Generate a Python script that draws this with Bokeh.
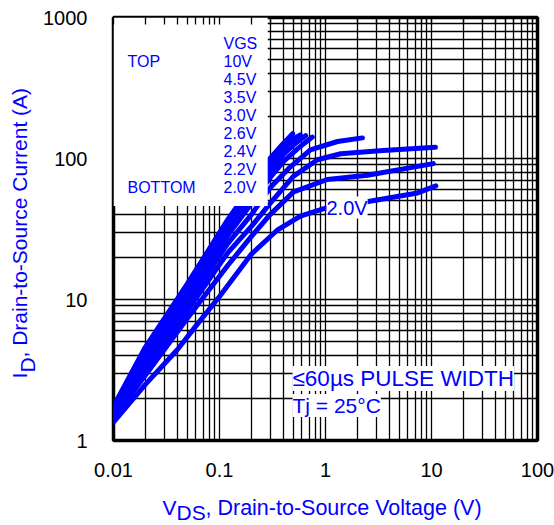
import math
from bokeh.plotting import figure
from bokeh.layouts import row, column
from bokeh.models import FixedTicker, CustomJSTickFormatter, Label, LogAxis
from bokeh.embed import file_html
from bokeh.resources import INLINE

# ---- data ----
vgs_labels = ["10V", "4.5V", "3.5V", "3.0V", "2.6V", "2.4V", "2.2V", "2.0V"]

vds_10v = [0.01, 0.02, 0.05, 0.12, 0.2, 0.3, 0.4, 0.49]
id_10v = [1.75, 4.6, 13, 37, 64, 100, 128, 150]

vds_4v5 = [0.01, 0.02, 0.05, 0.12, 0.2, 0.3, 0.4, 0.5, 0.58]
id_4v5 = [1.7, 4.3, 12, 34, 58, 90, 118, 138, 147]

vds_3v5 = [0.01, 0.02, 0.05, 0.12, 0.2, 0.3, 0.4, 0.5, 0.65]
id_3v5 = [1.65, 4.0, 11.1, 31, 53, 82, 107, 125, 145]

vds_3v0 = [0.01, 0.02, 0.05, 0.12, 0.2, 0.3, 0.4, 0.55, 0.75]
id_3v0 = [1.6, 3.8, 10.3, 28.5, 48, 73, 95, 118, 142]

vds_2v6 = [0.01, 0.02, 0.05, 0.12, 0.2, 0.3, 0.45, 0.72, 1.3, 2.23]
id_2v6 = [1.55, 3.5, 9.4, 25, 40, 62, 85, 115, 132, 140]

vds_2v4 = [0.01, 0.02, 0.05, 0.12, 0.2, 0.3, 0.5, 0.84, 1.39, 3.5, 10.9]
id_2v4 = [1.5, 3.2, 8.4, 21.5, 33, 48, 75, 98, 108, 114, 120]

vds_2v2 = [0.01, 0.02, 0.05, 0.12, 0.2, 0.3, 0.5, 1.04, 2.49, 10.4]
id_2v2 = [1.45, 2.9, 7.4, 17.5, 28, 40, 58, 71, 76, 92]

vds_2v0 = [0.01, 0.02, 0.04, 0.06, 0.1, 0.2, 0.35, 0.58, 0.95, 2.7, 7.4, 11]
id_2v0 = [1.35, 2.5, 4.4, 6.5, 10.5, 21, 31, 39, 44, 50, 57, 64]

curves = [
    (vds_10v, id_10v), (vds_4v5, id_4v5), (vds_3v5, id_3v5), (vds_3v0, id_3v0),
    (vds_2v6, id_2v6), (vds_2v4, id_2v4), (vds_2v2, id_2v2), (vds_2v0, id_2v0),
]

x_major = [0.01, 0.1, 1, 10, 100]
y_major = [1, 10, 100, 1000]
x_tick_labels = ["0.01", "0.1", "1", "10", "100"]
y_tick_labels = ["1", "10", "100", "1000"]

FONT = "Liberation Sans"
BLUE = "#0000FF"

p = figure(width=514, height=495, x_axis_type="log", y_axis_type="log",
           x_range=(0.01, 100), y_range=(1, 1000),
           output_backend="svg", toolbar_location=None,
           min_border_left=73, min_border_right=17,
           min_border_top=17, min_border_bottom=55)

x_minor = [m * d for d in x_major[:-1] for m in range(2, 10)]
y_minor = [m * d for d in y_major[:-1] for m in range(2, 10)]
p.xaxis.ticker = FixedTicker(ticks=x_major, minor_ticks=x_minor)
p.yaxis.ticker = FixedTicker(ticks=y_major, minor_ticks=y_minor)
p.xaxis.major_label_overrides = {v: t for v, t in zip(x_major, x_tick_labels)}
p.yaxis.major_label_overrides = {v: t for v, t in zip(y_major, y_tick_labels)}
fmt = CustomJSTickFormatter(code="return tick < 1 ? tick.toString() : tick.toFixed(0);")
p.xaxis.formatter = fmt
p.yaxis.formatter = fmt

for ax in (p.xaxis[0], p.yaxis[0]):
    ax.axis_line_color = None
    ax.major_tick_line_color = None
    ax.minor_tick_line_color = None
    ax.major_label_text_font = FONT
    ax.major_label_text_font_size = "20px"
    ax.major_label_text_color = "black"
p.xaxis.major_label_standoff = 16
p.yaxis.major_label_standoff = 20

# inward tick marks along the top edge (visible inside the legend panel)
top_ax = LogAxis(ticker=FixedTicker(ticks=x_major, minor_ticks=x_minor),
                 formatter=CustomJSTickFormatter(code="return '';"),
                 axis_line_color=None,
                 major_tick_in=7, major_tick_out=0,
                 minor_tick_in=7, minor_tick_out=0,
                 major_tick_line_color="black", minor_tick_line_color="black",
                 major_tick_line_width=1.3, minor_tick_line_width=1.3,
                 major_label_standoff=0)
p.add_layout(top_ax, "above")

p.xgrid.grid_line_color = "black"
p.ygrid.grid_line_color = "black"
p.xgrid.minor_grid_line_color = "black"
p.ygrid.minor_grid_line_color = "black"
p.grid.grid_line_width = 1.3
p.grid.minor_grid_line_width = 1.3

p.outline_line_color = "black"
p.outline_line_width = 3.5
p.background_fill_color = "white"
p.border_fill_color = "white"

for xs, ys in curves:
    p.line(xs, ys, line_color=BLUE, line_width=5, line_cap="round", line_join="round")

# white legend panel covering upper-left corner
p.quad(left=[0.01], right=[0.285], bottom=[46], top=[1000],
       fill_color="white", line_color=None)


def lab(fig, x, y, text, size, **kw):
    opts = dict(x=x, y=y, x_units="screen", y_units="screen", text=text,
                text_font=FONT, text_font_size=size, text_color=BLUE,
                text_baseline="middle", text_align="left")
    opts.update(kw)
    fig.add_layout(Label(**opts))


# legend texts
lab(p, 110, 397, "VGS", "16px")
lab(p, 14, 379, "TOP", "16px")
lab(p, 14, 253, "BOTTOM", "16px")
for i, t in enumerate(vgs_labels):
    lab(p, 110, 379 - i * 18, t, "16px")

# in-plot annotations
lab(p, 213, 233, "2.0V", "20px", background_fill_color="white")
lab(p, 179, 62, "\u226460\u00b5s PULSE WIDTH", "22.5px", background_fill_color="white")
lab(p, 179, 35, "Tj = 25\u00b0C", "21px", background_fill_color="white")


def text_strip(w, h):
    f = figure(width=w, height=h, x_range=(0, 1), y_range=(0, 1),
               x_axis_location=None, y_axis_location=None,
               output_backend="svg", toolbar_location=None,
               min_border=0, outline_line_color=None)
    f.grid.visible = False
    f.background_fill_color = "white"
    f.border_fill_color = "white"
    return f


# y axis title (rotated) with subscript
yfig = text_strip(40, 495)
lab(yfig, 19, 62, "I", "21px", text_baseline="alphabetic", angle=math.pi / 2)
lab(yfig, 27, 68, "D", "21px", text_baseline="alphabetic", angle=math.pi / 2)
lab(yfig, 19, 83, ", Drain-to-Source Current (A)", "21px",
    text_baseline="alphabetic", angle=math.pi / 2)

# x axis title with subscript
xfig = text_strip(554, 30)
lab(xfig, 162, 18, "V", "21px", text_baseline="alphabetic")
lab(xfig, 176, 13, "DS", "21px", text_baseline="alphabetic")
lab(xfig, 205, 18, ", Drain-to-Source Voltage (V)", "21.5px", text_baseline="alphabetic")

layout = column(row(yfig, p), xfig)

open("out.html", "w").write(file_html(layout, INLINE))
